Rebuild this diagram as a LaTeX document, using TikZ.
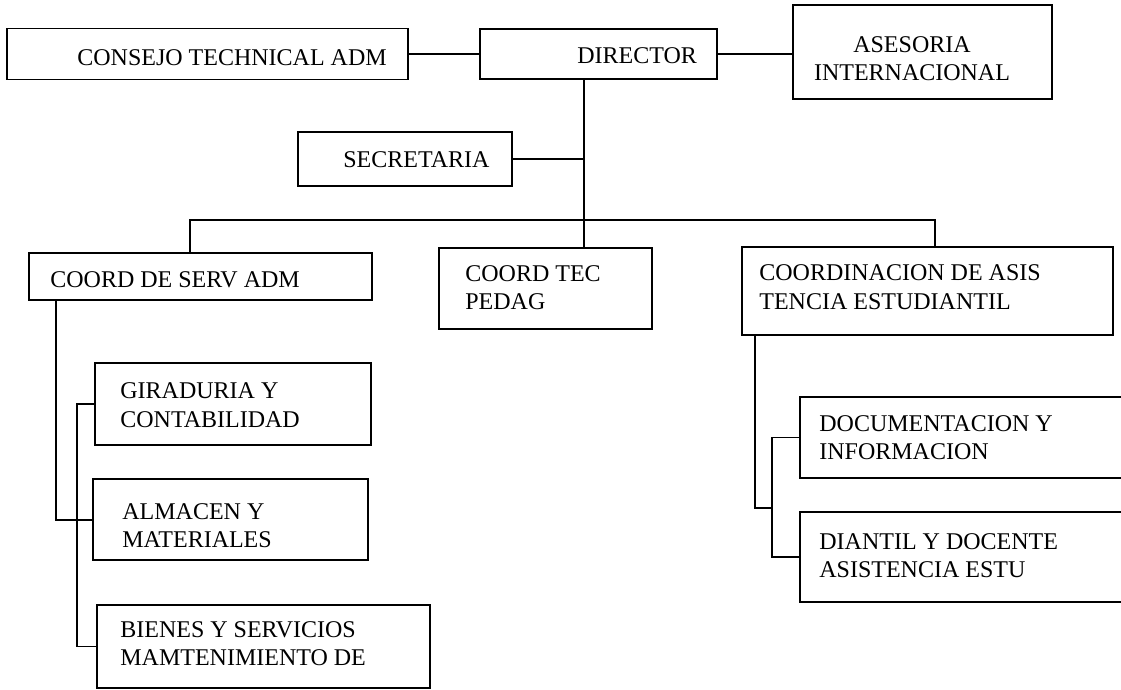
\documentclass[tikz,border=0pt]{standalone}
\usepackage{fontspec}
\setmainfont{Liberation Serif}
\begin{document}
\begin{tikzpicture}[x=0.5pt,y=-0.5pt,
  box/.style={draw=black, line width=0.9pt, inner sep=0pt, fill=none},
  lbl/.style={inner sep=0pt, font=\fontsize{12pt}{14pt}\selectfont, align=left},
  conn/.style={draw=black, line width=0.9pt}]
\useasboundingbox (0,0) rectangle (1121,690);
\clip (0,0) rectangle (1121,690);
\fill[white] (0,0) rectangle (1121,690);
% boxes
\node[box, minimum width=401*0.5pt, minimum height=51*0.5pt] (cons) at (207.5,54) {};
\node[box, minimum width=237*0.5pt, minimum height=50*0.5pt] (dir) at (598.5,54) {};
\node[box, minimum width=259*0.5pt, minimum height=94*0.5pt] (ase) at (922.5,52) {};
\node[box, minimum width=214*0.5pt, minimum height=54*0.5pt] (sec) at (405,159) {};
\node[box, minimum width=343*0.5pt, minimum height=47*0.5pt] (csa) at (200.5,276.5) {};
\node[box, minimum width=213*0.5pt, minimum height=81*0.5pt] (ctp) at (545.5,288.5) {};
\node[box, minimum width=371*0.5pt, minimum height=88*0.5pt] (coa) at (927.5,291) {};
\node[box, minimum width=276*0.5pt, minimum height=82*0.5pt] (gir) at (233,404) {};
\node[box, minimum width=275*0.5pt, minimum height=81*0.5pt] (alm) at (230.5,519.5) {};
\node[box, minimum width=333*0.5pt, minimum height=83*0.5pt] (bie) at (263.5,646.5) {};
\node[box, minimum width=360*0.5pt, minimum height=81*0.5pt] (doc) at (980,437.5) {};
\node[box, minimum width=360*0.5pt, minimum height=90*0.5pt] (dia) at (980,557) {};
% labels (base = last line's baseline)
\node[lbl, anchor=base west] (consT) at (77,66) {CONSEJO TECHNICAL ADM};
\node[lbl, anchor=base west] (dirT) at (577,64) {DIRECTOR};
\node[lbl, anchor=base, align=center] (aseT) at (912,81) {ASESORIA\\INTERNACIONAL};
\node[lbl, anchor=base west] (secT) at (343,168) {SECRETARIA};
\node[lbl, anchor=base west] (csaT) at (50,287) {COORD DE SERV ADM};
\node[lbl, anchor=base west] (ctpT) at (465,310) {COORD TEC\\PEDAG};
\node[lbl, anchor=base west] (coaT) at (759,309) {COORDINACION DE ASIS\\TENCIA ESTUDIANTIL};
\node[lbl, anchor=base west] (girT) at (120,427) {GIRADURIA Y\\CONTABILIDAD};
\node[lbl, anchor=base west] (almT) at (122,547) {ALMACEN Y\\MATERIALES};
\node[lbl, anchor=base west] (bieT) at (120,665) {BIENES Y SERVICIOS\\MAMTENIMIENTO DE};
\node[lbl, anchor=base west] (docT) at (819,459) {DOCUMENTACION Y\\INFORMACION};
\node[lbl, anchor=base west] (diaT) at (819,577) {DIANTIL Y DOCENTE\\ASISTENCIA ESTU};
% helper coordinates
\coordinate (bus) at (584,220);
\coordinate (busL) at (190,220);
\coordinate (busR) at (935,220);
\coordinate (l1) at (56,520);
\coordinate (l2) at (77,400);
\coordinate (r1) at (755,508);
\coordinate (r2) at (772,435);
% connectors
\draw[conn] (cons.east) -- (dir.west);
\draw[conn] (dir.east) -- (dir.east -| ase.west);
\draw[conn] (dir.south -| bus) -- (ctp.north -| bus);
\draw[conn] (sec.east) -- (sec.east -| bus);
\draw[conn] (csa.north -| busL) -- (busL) -- (busR) -- (coa.north -| busR);
\draw[conn] (csa.south -| l1) -- (l1) -- (l1 -| alm.west);
\draw[conn] (gir.west) -- (gir.west -| l2) -- (bie.west -| l2) -- (bie.west);
\draw[conn] (coa.south -| r1) -- (r1) -- (r1 -| r2);
\draw[conn] (doc.west) -- (doc.west -| r2) -- (dia.west -| r2) -- (dia.west);
\end{tikzpicture}
\end{document}
